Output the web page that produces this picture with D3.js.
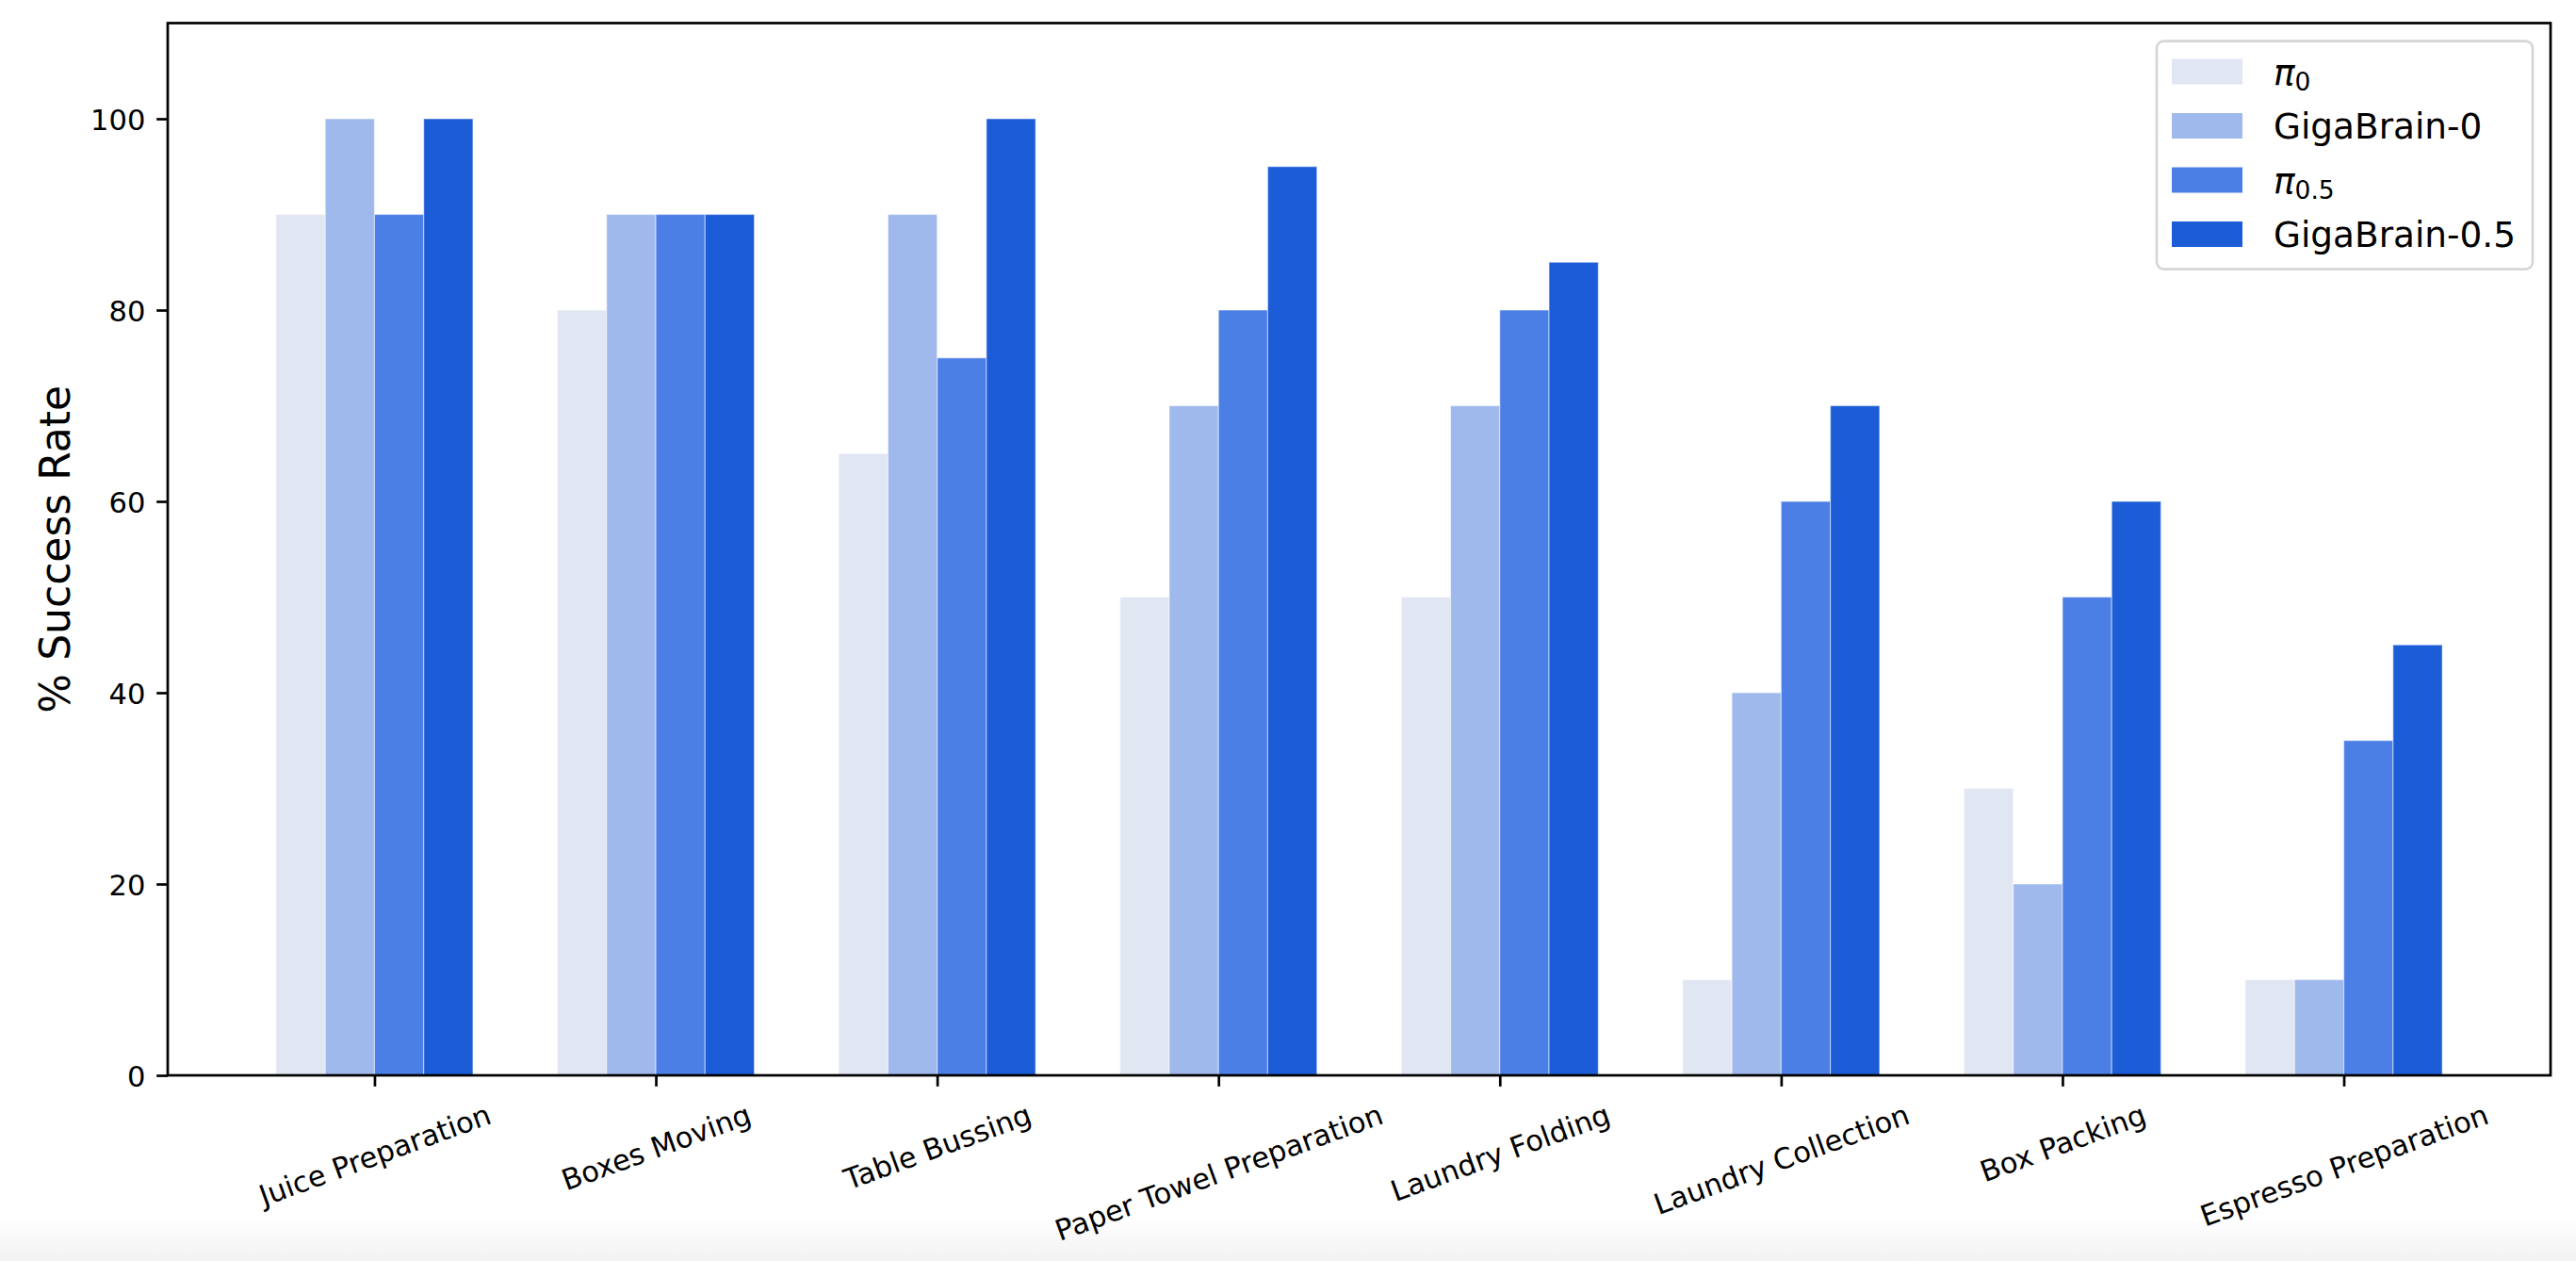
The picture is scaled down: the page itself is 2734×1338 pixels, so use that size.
<!DOCTYPE html>
<html>
<head>
<meta charset="utf-8">
<script src="https://cdn.jsdelivr.net/npm/d3@7"></script>
<style>
  body { margin: 0; background: #fff; }
  text { font-family: "DejaVu Sans", sans-serif; fill: #000; }
</style>
</head>
<body>
<div class="container"></div>
<script>
// tasks on the x axis
const tasks = ['Juice Preparation', 'Boxes Moving', 'Table Bussing', 'Paper Towel Preparation',
    'Laundry Folding', 'Laundry Collection', 'Box Packing', 'Espresso Preparation'];

// success rate per model, same order as tasks
const pi0 = [90, 80, 65, 50, 50, 10, 30, 10];
const gigaBrain0 = [100, 90, 90, 70, 70, 40, 20, 10];
const pi05 = [90, 90, 75, 80, 80, 60, 50, 35];
const gigaBrain05 = [100, 90, 100, 95, 85, 70, 60, 45];

// legend labels: [main, subscript]
const seriesLabels = [['π', '0'], ['GigaBrain-0', ''], ['π', '0.5'], ['GigaBrain-0.5', '']];
const yTicks = [0, 20, 40, 60, 80, 100];

const series = [pi0, gigaBrain0, pi05, gigaBrain05];
const colors = ['#e1e6f3', '#a0b9ec', '#4c7fe6', '#1c5cd7'];

const W = 2734, H = 1338;
const plot = { left: 178, right: 2707, top: 24.5, bottom: 1141 };
const barW = 0.175;
const tickLen = 11.8, tickPad = 11.8, lw = 2.7;
const tickFont = 30.6, legendFont = 37.4, labelFont = 44;

const svg = d3.select('.container')
    .append('svg')
    .attr('width', W)
    .attr('height', H);

// faint grey fade at the very bottom of the picture
const grad = svg.append('defs').append('linearGradient')
    .attr('id', 'fade').attr('x1', 0).attr('y1', 0).attr('x2', 0).attr('y2', 1);
grad.append('stop').attr('offset', '0%').attr('stop-color', '#ffffff');
grad.append('stop').attr('offset', '100%').attr('stop-color', '#f2f2f2');
svg.append('rect').attr('x', 0).attr('y', 1292).attr('width', W).attr('height', H - 1292)
    .attr('fill', 'url(#fade)');

const x = d3.scaleLinear().domain([-0.735, 7.735]).range([plot.left, plot.right]);
const y = d3.scaleLinear().domain([0, 110]).range([plot.bottom, plot.top]);

// bars
series.forEach((vals, j) => {
    let off = (j - 1.5) * barW;
    svg.append('g')
        .selectAll('rect')
        .data(vals)
        .enter()
        .append('rect')
        .attr('x', (d, i) => x(i + off - barW / 2))
        .attr('width', (d, i) => x(i + off + barW / 2) - x(i + off - barW / 2))
        .attr('y', d => y(d))
        .attr('height', d => y(0) - y(d))
        .attr('fill', colors[j])
        .attr('stroke', '#fff')
        .attr('stroke-opacity', 0.45)
        .attr('stroke-width', 1.2);
});

// y axis
const yAxis = svg.append('g')
    .attr('transform', `translate(${plot.left},0)`)
    .call(d3.axisLeft(y).tickValues(yTicks).tickSize(tickLen).tickPadding(tickPad).tickSizeOuter(0));
yAxis.select('.domain').remove();
yAxis.selectAll('line').attr('stroke', '#000').attr('stroke-width', lw);
yAxis.selectAll('text')
    .attr('font-size', tickFont)
    .attr('font-family', '"DejaVu Sans", sans-serif')
    .attr('dy', '0.36em');

// x axis
const xAxis = svg.append('g')
    .attr('transform', `translate(0,${plot.bottom})`)
    .call(d3.axisBottom(x).tickValues(d3.range(tasks.length)).tickFormat(i => tasks[i])
        .tickSize(tickLen).tickPadding(tickPad).tickSizeOuter(0));
xAxis.select('.domain').remove();
xAxis.selectAll('line').attr('stroke', '#000').attr('stroke-width', lw);
const ang = 20 * Math.PI / 180;
xAxis.selectAll('text')
    .attr('font-size', tickFont)
    .attr('font-family', '"DejaVu Sans", sans-serif')
    .attr('text-anchor', 'middle')
    .attr('y', 0)
    .attr('dy', '0.35em')
    .each(function () {
        let w = this.getComputedTextLength();
        let h = 1.164 * tickFont;
        let cy = tickLen + tickPad + (w * Math.sin(ang) + h * Math.cos(ang)) / 2;
        d3.select(this).attr('transform', `translate(0,${cy}) rotate(-20)`);
    });

// frame
svg.append('rect')
    .attr('x', plot.left).attr('y', plot.top)
    .attr('width', plot.right - plot.left).attr('height', plot.bottom - plot.top)
    .attr('fill', 'none').attr('stroke', '#000').attr('stroke-width', lw);

// y label
svg.append('text')
    .attr('transform', `translate(74,${(plot.top + plot.bottom) / 2}) rotate(-90)`)
    .attr('text-anchor', 'middle')
    .attr('font-size', labelFont)
    .text('% Success Rate');

// legend
const lg = { x: 2289, y: 43.6, w: 399, h: 242 };
svg.append('rect')
    .attr('x', lg.x).attr('y', lg.y).attr('width', lg.w).attr('height', lg.h)
    .attr('rx', 7.5).attr('ry', 7.5)
    .attr('fill', '#fff').attr('fill-opacity', 0.8)
    .attr('stroke', '#d6d6d6').attr('stroke-width', lw);

const rowY = i => lg.y + 32.4 + i * 57.5;
const items = svg.append('g').selectAll('g')
    .data(seriesLabels)
    .enter()
    .append('g');
items.append('rect')
    .attr('x', 2305).attr('width', 75)
    .attr('y', (d, i) => rowY(i) - 13.5).attr('height', 27)
    .attr('fill', (d, i) => colors[i]);
items.each(function (d, i) {
    let t = d3.select(this).append('text')
        .attr('x', 2413).attr('y', rowY(i) + 13.5)
        .attr('font-size', legendFont);
    if (d[1]) {
        t.append('tspan').attr('font-style', 'italic').text(d[0]);
        t.append('tspan').attr('font-size', 26.5).attr('dy', 6).text(d[1]);
    } else {
        t.text(d[0]);
    }
});
</script>
</body>
</html>
